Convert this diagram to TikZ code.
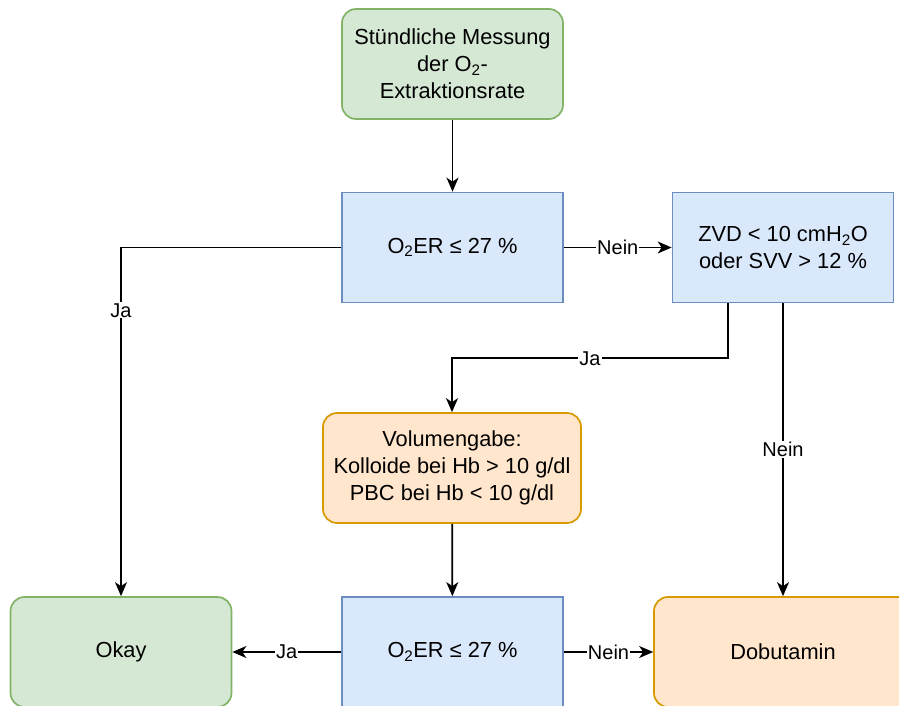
\documentclass[tikz,border=0pt]{standalone}
\usepackage{fontspec}
\setmainfont{Liberation Sans}
\usetikzlibrary{arrows.meta}
\definecolor{greenfill}{HTML}{D5E8D4}
\definecolor{greendraw}{HTML}{82B366}
\definecolor{bluefill}{HTML}{DAE8FC}
\definecolor{bluedraw}{HTML}{6C8EBF}
\definecolor{orangefill}{HTML}{FFE6CC}
\definecolor{orangedraw}{HTML}{D79B00}
\begin{document}
\begin{tikzpicture}[x=1pt,y=-1pt,
  box/.style={draw, line width=1.7pt, minimum width=221pt, minimum height=110pt,
    align=center, inner sep=2pt, font=\fontsize{21.8}{27}\selectfont},
  greenbox/.style={box, rounded corners=14pt, fill=greenfill, draw=greendraw},
  bluebox/.style={box, fill=bluefill, draw=bluedraw},
  orangebox/.style={box, rounded corners=14pt, fill=orangefill, draw=orangedraw, minimum width=258pt},
  conn/.style={line width=1.8pt, -{Stealth[length=14pt,width=12pt,inset=4pt]}},
  lbl/.style={fill=white, inner sep=1pt, font=\fontsize{20}{23}\selectfont}
]
\useasboundingbox (0,0) rectangle (899,706);
\clip (0,0) rectangle (899,706);

\node[greenbox] (top) at (452.5,64) {Stündliche Messung\\der O\textsubscript{2}-\\Extraktionsrate};
\node[bluebox] (er1) at (452.5,247.5) {O\textsubscript{2}ER ≤ 27 \%};
\node[bluebox] (zvd) at (783,247.5) {ZVD < 10 cmH\textsubscript{2}O\\oder SVV > 12 \%};
\node[orangebox] (vol) at (452,468) {Volumengabe:\\Kolloide bei Hb > 10 g/dl\\PBC bei Hb < 10 g/dl};
\node[greenbox] (okay) at (121,652) {Okay};
\node[bluebox] (er2) at (452.5,652) {O\textsubscript{2}ER ≤ 27 \%};
\node[orangebox] (dob) at (783,652) {Dobutamin};

\draw[conn] (top) -- (er1);
\draw[conn] (er1) -- node[lbl] {Nein} (zvd);
\draw[conn] (er1.west) -| node[lbl, pos=0.59] {Ja} (okay.north);
\draw[conn] ([xshift=-55pt]zvd.south) -- ++(0,55) -| node[lbl, pos=0.25] {Ja} (vol.north);
\draw[conn] (zvd.south) -- node[lbl] {Nein} (dob.north);
\draw[conn] (vol) -- (er2);
\draw[conn] (er2) -- node[lbl] {Ja} (okay);
\draw[conn] (er2) -- node[lbl] {Nein} (dob);
\end{tikzpicture}
\end{document}
